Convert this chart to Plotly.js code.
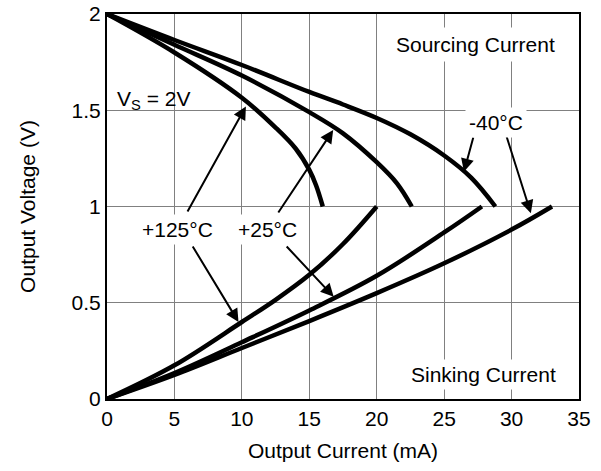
<!DOCTYPE html>
<html><head><meta charset="utf-8">
<script src="https://cdn.plot.ly/plotly-3.0.1.min.js"></script>
<style>html,body{margin:0;padding:0;background:#fff;}#chart{width:601px;height:471px;}</style>
</head><body><div id="chart"></div>
<script>
// Sourcing current curves (start at 2 V)
const src40_x = [0, 5, 10, 15, 17.5, 20, 22.5, 25, 27, 28.8];
const src40_y = [2, 1.865, 1.735, 1.595, 1.53, 1.46, 1.375, 1.265, 1.15, 1.0];
const src25_x = [0, 5, 10, 15, 17.5, 20, 21.5, 22.6];
const src25_y = [2, 1.84, 1.68, 1.49, 1.38, 1.23, 1.12, 1.0];
const src125_x = [0, 5, 10, 12.5, 14, 15, 15.5, 16];
const src125_y = [2, 1.80, 1.565, 1.41, 1.30, 1.19, 1.11, 1.0];
// Sinking current curves (start at 0 V)
const snk125_x = [0, 5, 10, 12.5, 15, 17.5, 20];
const snk125_y = [0, 0.175, 0.40, 0.515, 0.645, 0.805, 1.0];
const snk25_x = [0, 5, 10, 15, 20, 25, 27.8];
const snk25_y = [0, 0.135, 0.295, 0.46, 0.64, 0.865, 1.0];
const snk40_x = [0, 5, 10, 15, 20, 25, 30, 33];
const snk40_y = [0, 0.125, 0.265, 0.405, 0.55, 0.705, 0.88, 1.0];

const xTicks = [0, 5, 10, 15, 20, 25, 30, 35];
const yTicks = [0, 0.5, 1, 1.5, 2];
const yTickText = ['0', '0.5', '1', '1.5', '2'];

const FONT = 'Liberation Sans, Arial, sans-serif';
const FS = 21;
const line = {color: '#000', width: 4.5, shape: 'spline', smoothing: 1};
const mk = (x, y, name) => ({x, y, name, type: 'scatter', mode: 'lines', line, hoverinfo: 'skip'});

const traces = [
  mk(src40_x, src40_y, 'src -40'), mk(src25_x, src25_y, 'src 25'), mk(src125_x, src125_y, 'src 125'),
  mk(snk125_x, snk125_y, 'snk 125'), mk(snk25_x, snk25_y, 'snk 25'), mk(snk40_x, snk40_y, 'snk -40')
];

const label = (text, x, y, extra) => Object.assign({
  text, x, y, xref: 'x', yref: 'y', showarrow: false,
  font: {family: FONT, size: FS, color: '#000'}, bgcolor: '#fff', borderpad: 3
}, extra || {});
const arrow = (x, y, ax, ay) => ({
  text: '', x, y, ax, ay, xref: 'x', yref: 'y', axref: 'x', ayref: 'y',
  showarrow: true, arrowhead: 2, arrowsize: 1.3, arrowwidth: 2, arrowcolor: '#000', standoff: 0
});

const annotations = [
  arrow(10.3, 1.52, 5.91, 0.966),
  arrow(16.77, 1.397, 12.63, 0.961),
  arrow(9.75, 0.40, 6.29, 0.80),
  arrow(16.81, 0.531, 13.22, 0.80),
  arrow(26.47, 1.181, 27.19, 1.366),
  arrow(31.43, 0.965, 29.57, 1.377),
  label('Sourcing Current', 27.34, 1.839, {borderpad: 5}),
  label('Sinking Current', 27.93, 0.125, {borderpad: 3}),
  label('V<sub>S</sub> = 2V', 0.45, 1.555, {xanchor: 'left', bgcolor: 'rgba(0,0,0,0)'}),
  label('-40°C', 28.83, 1.434),
  label('+125°C', 5.2, 0.878),
  label('+25°C', 11.89, 0.878)
];

const axisCommon = {
  showline: true, mirror: true, linecolor: '#000', linewidth: 2,
  showgrid: true, gridcolor: '#808080', gridwidth: 1, zeroline: false,
  ticks: '', tickfont: {family: FONT, size: FS, color: '#000'}, fixedrange: true
};

const layout = {
  width: 601, height: 471,
  margin: {l: 107, r: 22, t: 14, b: 72},
  paper_bgcolor: '#fff', plot_bgcolor: '#fff',
  showlegend: false,
  font: {family: FONT, size: FS, color: '#000'},
  xaxis: Object.assign({}, axisCommon, {
    range: [0, 35], tickvals: xTicks, ticktext: xTicks.map(String),
    title: {text: 'Output Current (mA)', font: {family: FONT, size: FS, color: '#000'}, standoff: 14}
  }),
  yaxis: Object.assign({}, axisCommon, {
    range: [0, 2], tickvals: yTicks, ticktext: yTickText,
    title: {text: 'Output Voltage (V)', font: {family: FONT, size: FS, color: '#000'}, standoff: 30}
  }),
  annotations
};

Plotly.newPlot('chart', traces, layout, {displayModeBar: false, staticPlot: true});
</script>
</body></html>
